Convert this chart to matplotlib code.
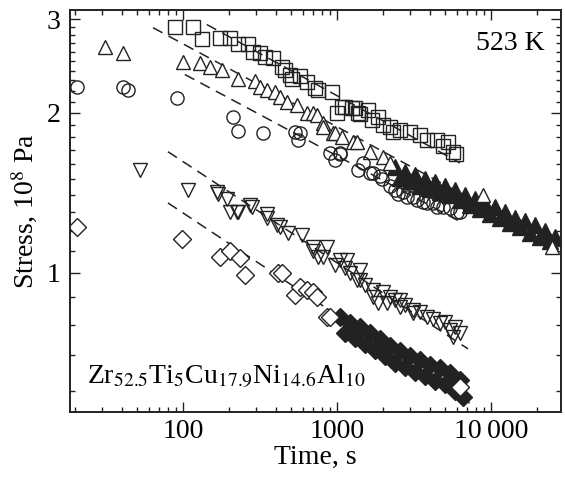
#----------------------------------------------------------------------------
# Stress relaxation curves, Zr-based bulk metallic glass at 523 K
# log-log plot: stress (10^8 Pa) vs time (s), five runs + power-law fits
#----------------------------------------------------------------------------

import matplotlib
matplotlib.use('Agg')
import matplotlib.pyplot as plt
import matplotlib.ticker as mticker

#----------------------------------------------------------------------------
# Data
#----------------------------------------------------------------------------

# squares
sq_t = [89, 116, 133, 174, 202, 227, 264, 285, 316, 340, 384, 439, 459, 495,
        510, 575, 638, 719, 753, 929, 1000, 1077, 1127, 1250, 1306, 1369,
        1411, 1589, 1687, 1846, 1989, 2210, 2312, 2567, 2981, 3462, 3837,
        4458, 4877, 5256, 5666, 5900]
sq_s = [2.90, 2.90, 2.75, 2.77, 2.77, 2.69, 2.69, 2.60, 2.59, 2.55, 2.54,
        2.44, 2.41, 2.36, 2.31, 2.34, 2.28, 2.23, 2.21, 2.19, 2.00, 2.05,
        2.05, 2.04, 2.04, 2.00, 1.99, 2.02, 1.94, 1.96, 1.90, 1.88, 1.84,
        1.86, 1.84, 1.82, 1.78, 1.78, 1.73, 1.76, 1.69, 1.67]

# triangles up (open part)
tu_t = [31, 41, 100, 129, 150, 179, 227, 294, 316, 351, 396, 426, 473, 550,
        638, 698, 741, 811, 811, 942, 970, 1077, 1270, 1345, 1639, 1990, 2210,
        8870, 25000]
tu_s = [2.66, 2.59, 2.49, 2.48, 2.44, 2.41, 2.31, 2.29, 2.24, 2.21, 2.19,
        2.14, 2.10, 2.07, 2.00, 2.00, 1.98, 1.91, 1.88, 1.83, 1.83, 1.80,
        1.76, 1.76, 1.69, 1.65, 1.61, 1.40, 1.12]

# triangles up (long-time part, markers overlap into a solid band)
tu_band_t = [2380, 2570, 2770, 2980, 3210, 3460, 3730, 4020, 4330, 4670,
             5030, 5420, 5840, 6300, 6780, 7320, 7870, 8500, 9150, 9870,
             10600, 11400, 12300, 13300, 14300, 15400, 16600, 17900, 19300,
             20800, 22400, 24200, 26000]
tu_band_s = [1.58, 1.51, 1.55, 1.49, 1.53, 1.46, 1.50, 1.44, 1.48, 1.42,
             1.46, 1.40, 1.43, 1.37, 1.40, 1.34, 1.38, 1.32, 1.35, 1.29,
             1.33, 1.27, 1.30, 1.24, 1.27, 1.22, 1.25, 1.19, 1.23, 1.17,
             1.20, 1.15, 1.17]

# circles
ci_t = [20.5, 41, 44, 91, 211, 227, 330, 533, 575, 558, 901, 971, 1046, 1046,
        1369, 1475, 1640, 1712, 1903, 1960, 2210, 2382, 2490, 2684, 2851,
        3118, 3306, 3616, 3837, 4199, 4458, 4877, 5424, 6010, 6300]
ci_s = [2.24, 2.24, 2.21, 2.13, 1.96, 1.85, 1.83, 1.84, 1.83, 1.78, 1.68,
        1.63, 1.68, 1.67, 1.56, 1.61, 1.54, 1.54, 1.52, 1.50, 1.46, 1.43,
        1.41, 1.42, 1.39, 1.39, 1.37, 1.36, 1.354, 1.354, 1.33, 1.33, 1.325,
        1.30, 1.30]

# triangles down
td_t = [53, 108, 166, 169, 193, 202, 224, 227, 272, 281, 351, 351, 407, 426,
        481, 593, 698, 698, 753, 811, 861, 971, 1046, 1127, 1161, 1215, 1349,
        1411, 1411, 1521, 1712, 1712, 1846, 1990, 2112, 2210, 2382, 2567,
        2567, 2767, 3118, 3118, 3462, 3837, 4199, 4670, 5026, 5424, 5666,
        5840, 6300]
td_s = [1.56, 1.43, 1.42, 1.41, 1.38, 1.30, 1.30, 1.30, 1.34, 1.33, 1.29,
        1.27, 1.23, 1.22, 1.19, 1.18, 1.12, 1.10, 1.07, 1.07, 1.12, 1.035,
        1.06, 1.02, 1.06, 1.00, 0.97, 1.013, 0.97, 0.95, 0.93, 0.90, 0.88,
        0.92, 0.88, 0.90, 0.89, 0.89, 0.863, 0.87, 0.852, 0.84, 0.845, 0.826,
        0.82, 0.805, 0.81, 0.78, 0.758, 0.79, 0.771]

# diamonds (open part)
di_t = [20.5, 98.5, 174, 202, 234, 253, 414, 439, 533, 575, 638, 698, 741,
        861, 901, 6300]
di_s = [1.22, 1.16, 1.07, 1.10, 1.067, 0.99, 1.00, 1.00, 0.91, 0.94, 0.93,
        0.92, 0.90, 0.826, 0.826, 0.61]

# diamonds (long-time part, solid band)
di_band_t = [1046, 1127, 1215, 1306, 1411, 1521, 1639, 1766, 1903, 2051, 2210,
             2382, 2567, 2767, 2981, 3209, 3462, 3727, 4021, 4328, 4670, 5026,
             5424, 5838, 6300, 6570]
di_band_s = [0.825, 0.772, 0.805, 0.755, 0.790, 0.736, 0.770, 0.717, 0.750,
             0.698, 0.728, 0.677, 0.712, 0.665, 0.698, 0.651, 0.686, 0.640,
             0.672, 0.626, 0.662, 0.618, 0.648, 0.601, 0.630, 0.586]

# dashed power-law fits: (t_start, t_end), (s_start, s_end)
fit_t = [(143, 6300), (64, 28000), (103, 6600), (80, 7100), (80, 7300)]
fit_s = [(2.93, 1.61), (2.89, 1.12), (2.36, 1.24), (1.69, 0.72), (1.354, 0.569)]

#----------------------------------------------------------------------------
# Style
#----------------------------------------------------------------------------

INK = '#222222'

plt.rcParams.update({
    'font.family'      : 'serif',
    'font.serif'       : ['Liberation Serif', 'DejaVu Serif'],
    'mathtext.fontset' : 'stix',
    'font.size'        : 20,
})

MK = dict(linestyle='none', markersize=9.5, markeredgewidth=1.0,
          markeredgecolor=INK, markerfacecolor='none')

#----------------------------------------------------------------------------
# Plot
#----------------------------------------------------------------------------

fig = plt.figure(figsize=(5.65, 4.79), dpi=100)
ax = fig.add_axes([70/565, 67/479, 491/565, 402/479])
ax.set_xscale('log')
ax.set_yscale('log')

for (t0, t1), (s0, s1) in zip(fit_t, fit_s):
    ax.plot([t0, t1], [s0, s1], color=INK, lw=1.1, dashes=(7, 4.5))

ax.plot(sq_t, sq_s, marker='s', **MK)
ax.plot(tu_band_t, tu_band_s, marker='^', **{**MK, 'markersize': 11,
                                              'markerfacecolor': INK})
ax.plot(tu_t, tu_s, marker='^', **{**MK, 'markerfacecolor': 'white'})
ax.plot(ci_t, ci_s, marker='o', **MK)
ax.plot(td_t, td_s, marker='v', **MK)
ax.plot(di_band_t, di_band_s, marker='D', **{**MK, 'markersize': 9,
                                              'markerfacecolor': INK})
ax.plot(di_t, di_s, marker='D', **{**MK, 'markersize': 9,
                                    'markerfacecolor': 'white'})

ax.set_xlim(18.5, 28500)
ax.set_ylim(0.548, 3.12)

# ticks
ax.xaxis.set_major_locator(mticker.FixedLocator([100, 1000, 10000]))
ax.xaxis.set_major_formatter(mticker.FixedFormatter(['100', '1000', '10\u2009000']))
ax.xaxis.set_minor_locator(mticker.LogLocator(base=10, subs=range(2, 10)))
ax.xaxis.set_minor_formatter(mticker.NullFormatter())

ax.yaxis.set_major_locator(mticker.FixedLocator([1, 2, 3]))
ax.yaxis.set_major_formatter(mticker.FixedFormatter(['1', '2', '3']))
ax.yaxis.set_minor_locator(mticker.FixedLocator(
    [0.6, 0.7, 0.8, 0.9] + [1 + 0.1*i for i in range(1, 10)]
    + [2 + 0.1*i for i in range(1, 10)]))
ax.yaxis.set_minor_formatter(mticker.NullFormatter())

ax.tick_params(which='both', direction='in', top=True, right=True,
               color=INK, width=1.0)
ax.tick_params(which='major', length=7)
ax.tick_params(which='minor', length=3.5)
ax.tick_params(axis='x', which='major', pad=5)
ax.tick_params(axis='y', which='major', pad=7)

for sp in ax.spines.values():
    sp.set_linewidth(1.4)
    sp.set_color(INK)

ax.set_xlabel('Time, s')
ax.set_ylabel('Stress, 10$^8$ Pa')
ax.xaxis.set_label_coords(0.5, -0.082)
ax.yaxis.set_label_coords(-0.062, 0.5)

ax.text(0.967, 0.90, '523 K', transform=ax.transAxes, ha='right',
        va='baseline')
ax.text(0.035, 0.072, r'Zr$_{52.5}$Ti$_{5}$Cu$_{17.9}$Ni$_{14.6}$Al$_{10}$',
        transform=ax.transAxes, ha='left', va='baseline')

fig.savefig('out.png', dpi=100)
